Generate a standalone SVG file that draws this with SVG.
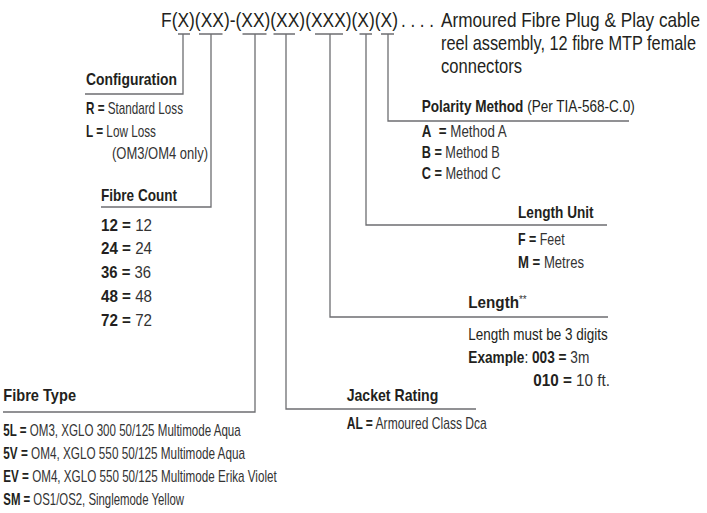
<svg xmlns="http://www.w3.org/2000/svg" width="707" height="513" viewBox="0 0 707 513">
<style>
text{font-family:"Liberation Sans",Arial,sans-serif;fill:#231f20}
.code{font-size:21px}
.lab{font-size:17px}
.b{font-weight:bold}
.l{font-weight:normal;fill:#333}
.ln{stroke:#6d6e71;stroke-width:1.3;fill:none}
</style>
<rect width="707" height="513" fill="#fff"/>
<g id="header">
<text class="code" x="161" y="27" textLength="237" lengthAdjust="spacingAndGlyphs">F(X)(XX)-(XX)(XX)(XXX)(X)(X)</text>
<text class="code" x="401" y="27" textLength="33" lengthAdjust="spacingAndGlyphs">. . . .</text>
<text class="code" x="441" y="27" textLength="259" lengthAdjust="spacingAndGlyphs">Armoured Fibre Plug &amp; Play cable</text>
<text class="code" x="441" y="50" textLength="255" lengthAdjust="spacingAndGlyphs">reel assembly, 12 fibre MTP female</text>
<text class="code" x="441" y="73" textLength="81" lengthAdjust="spacingAndGlyphs">connectors</text>
</g>
<g id="connectors">
<path class="ln" d="M178 34H190M183 34V94H85"/>
<path class="ln" d="M199 34H222.5M211 34V207H101"/>
<path class="ln" d="M242.5 34H266.5M255 34V412H3"/>
<path class="ln" d="M273.5 34H295M286 34V409H476"/>
<path class="ln" d="M315 34H343M330 34V317H608"/>
<path class="ln" d="M359.5 34H372M366 34V225H607"/>
<path class="ln" d="M381 34H394M388 34V121H629"/>
</g>
<g id="configuration">
<text class="lab b" x="86" y="85" textLength="91" lengthAdjust="spacingAndGlyphs">Configuration</text>
<text class="lab" x="86" y="114" textLength="97" lengthAdjust="spacingAndGlyphs"><tspan class="b">R =</tspan><tspan class="l"> Standard Loss</tspan></text>
<text class="lab" x="86" y="137" textLength="70" lengthAdjust="spacingAndGlyphs"><tspan class="b">L =</tspan><tspan class="l"> Low Loss</tspan></text>
<text class="lab l" x="112" y="159" textLength="96" lengthAdjust="spacingAndGlyphs">(OM3/OM4 only)</text>
</g>
<g id="fibre-count">
<text class="lab b" x="101" y="200.5" textLength="76" lengthAdjust="spacingAndGlyphs">Fibre Count</text>
<text class="lab" x="101" y="230.5" textLength="51" lengthAdjust="spacingAndGlyphs"><tspan class="b">12 =</tspan><tspan class="l"> 12</tspan></text>
<text class="lab" x="101" y="254" textLength="51" lengthAdjust="spacingAndGlyphs"><tspan class="b">24 =</tspan><tspan class="l"> 24</tspan></text>
<text class="lab" x="101" y="278" textLength="50" lengthAdjust="spacingAndGlyphs"><tspan class="b">36 =</tspan><tspan class="l"> 36</tspan></text>
<text class="lab" x="101" y="301.5" textLength="51" lengthAdjust="spacingAndGlyphs"><tspan class="b">48 =</tspan><tspan class="l"> 48</tspan></text>
<text class="lab" x="101" y="325.5" textLength="51" lengthAdjust="spacingAndGlyphs"><tspan class="b">72 =</tspan><tspan class="l"> 72</tspan></text>
</g>
<g id="polarity">
<text class="lab" x="421.7" y="112" textLength="213" lengthAdjust="spacingAndGlyphs"><tspan class="b">Polarity Method</tspan><tspan> (Per TIA-568-C.0)</tspan></text>
<text class="lab" x="421.7" y="137" textLength="85" lengthAdjust="spacingAndGlyphs"><tspan class="b">A&#160; =</tspan><tspan class="l"> Method A</tspan></text>
<text class="lab" x="421.7" y="158" textLength="78" lengthAdjust="spacingAndGlyphs"><tspan class="b">B =</tspan><tspan class="l"> Method B</tspan></text>
<text class="lab" x="421.7" y="179" textLength="79" lengthAdjust="spacingAndGlyphs"><tspan class="b">C =</tspan><tspan class="l"> Method C</tspan></text>
</g>
<g id="length-unit">
<text class="lab b" x="518" y="218" textLength="75.6" lengthAdjust="spacingAndGlyphs">Length Unit</text>
<text class="lab" x="518" y="245" textLength="46.6" lengthAdjust="spacingAndGlyphs"><tspan class="b">F =</tspan><tspan class="l"> Feet</tspan></text>
<text class="lab" x="518" y="268" textLength="66" lengthAdjust="spacingAndGlyphs"><tspan class="b">M =</tspan><tspan class="l"> Metres</tspan></text>
</g>
<g id="length">
<text class="lab" x="468.3" y="308" textLength="58.4" lengthAdjust="spacingAndGlyphs"><tspan class="b">Length</tspan><tspan class="l" font-size="11" dy="-5">**</tspan></text>
<text class="lab" x="468.3" y="340" textLength="139.4" lengthAdjust="spacingAndGlyphs">Length must be 3 digits</text>
<text class="lab" x="468.3" y="363" textLength="121" lengthAdjust="spacingAndGlyphs"><tspan class="b">Example</tspan><tspan>:</tspan><tspan class="b"> 003 =</tspan><tspan class="l"> 3m</tspan></text>
<text class="lab" x="533.3" y="386" textLength="76.7" lengthAdjust="spacingAndGlyphs"><tspan class="b">010 =</tspan><tspan class="l"> 10 ft.</tspan></text>
</g>
<g id="jacket-rating">
<text class="lab b" x="346.7" y="401" textLength="91.6" lengthAdjust="spacingAndGlyphs">Jacket Rating</text>
<text class="lab" x="346.7" y="429" textLength="140" lengthAdjust="spacingAndGlyphs"><tspan class="b">AL =</tspan><tspan class="l"> Armoured Class Dca</tspan></text>
</g>
<g id="fibre-type">
<text class="lab b" x="3.3" y="400.5" textLength="72.7" lengthAdjust="spacingAndGlyphs">Fibre Type</text>
<text class="lab" x="3.3" y="436" textLength="237.4" lengthAdjust="spacingAndGlyphs"><tspan class="b">5L =</tspan><tspan class="l"> OM3, XGLO 300 50/125 Multimode Aqua</tspan></text>
<text class="lab" x="3.3" y="459" textLength="241.7" lengthAdjust="spacingAndGlyphs"><tspan class="b">5V =</tspan><tspan class="l"> OM4, XGLO 550 50/125 Multimode Aqua</tspan></text>
<text class="lab" x="3.3" y="482" textLength="273.4" lengthAdjust="spacingAndGlyphs"><tspan class="b">EV =</tspan><tspan class="l"> OM4, XGLO 550 50/125 Multimode Erika Violet</tspan></text>
<text class="lab" x="3.3" y="505" textLength="180.7" lengthAdjust="spacingAndGlyphs"><tspan class="b">SM =</tspan><tspan class="l"> OS1/OS2, Singlemode Yellow</tspan></text>
</g>
</svg>
